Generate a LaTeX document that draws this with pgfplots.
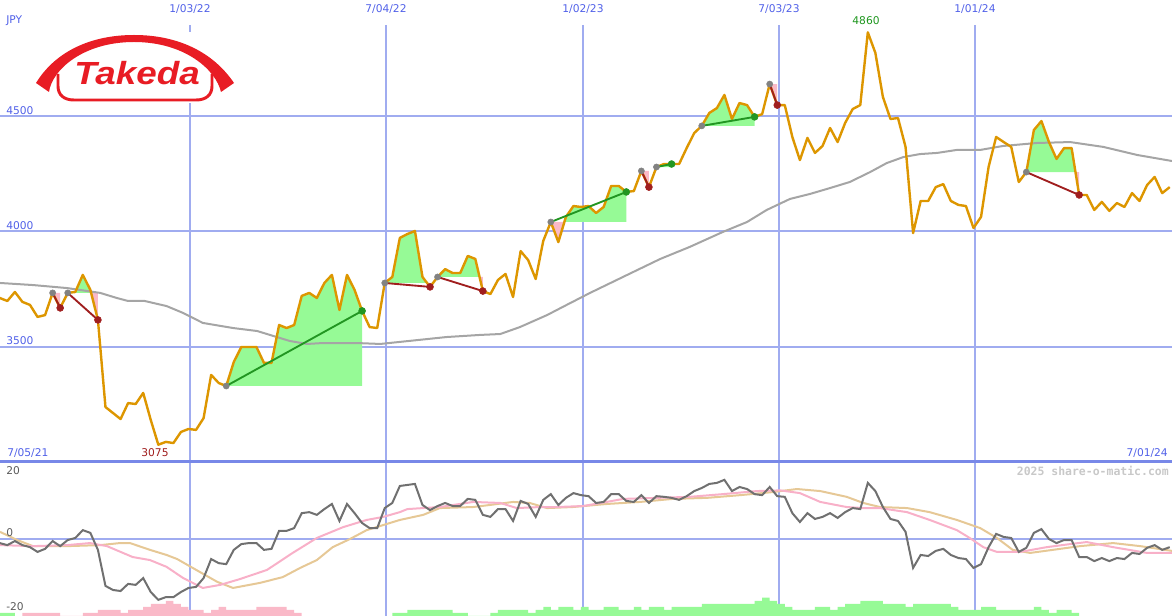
\documentclass[border=0pt]{standalone}
\usepackage{fontspec}
\setmainfont{DejaVu Sans}
\newfontfamily\monofont{DejaVu Sans Mono}
\newfontfamily\logofont{Liberation Sans}
\usepackage{pgfplots}
\pgfplotsset{compat=1.18}
\definecolor{pricecol}{RGB}{221,150,0}
\definecolor{magray}{RGB}{165,165,165}
\definecolor{gridblue}{RGB}{160,172,240}
\definecolor{sepblue}{RGB}{120,136,232}
\definecolor{lblblue}{RGB}{80,96,232}
\definecolor{upfill}{RGB}{150,250,150}
\definecolor{dnfill}{RGB}{250,185,200}
\definecolor{upline}{RGB}{34,150,34}
\definecolor{dnline}{RGB}{160,30,30}
\definecolor{startgray}{RGB}{130,130,130}
\definecolor{momgray}{RGB}{112,112,112}
\definecolor{sigpink}{RGB}{248,176,200}
\definecolor{sigtan}{RGB}{230,200,150}
\definecolor{takedared}{RGB}{232,28,36}
\definecolor{peakgreen}{RGB}{30,150,30}
\definecolor{lowred}{RGB}{160,30,30}
\definecolor{wmgray}{RGB}{200,200,200}
\definecolor{lowlbl}{RGB}{90,90,90}
\pgfplotsset{panel/.style={scale only axis, width=879pt, xmin=1.027, xmax=156.3,
  axis lines=none, xtick=\empty, ytick=\empty, clip=true}}
\begin{document}
\begin{tikzpicture}
% ---------- grid (pixel coordinates) ----------
\begin{scope}[x=0.75pt,y=-0.75pt]
\foreach \gy in {116,231,347,539} \draw[gridblue, line width=1.9pt] (0,\gy) -- (1172,\gy);
\foreach \gx in {190,583,975} \draw[gridblue, line width=0.8pt] (\gx,25) -- (\gx,616);
\foreach \gx in {386,779} \draw[gridblue, line width=1.9pt] (\gx,25) -- (\gx,616);
\end{scope}
% ---------- price panel ----------
\begin{axis}[panel, at={(0,0)}, anchor=north west, height=346.5pt, ymin=3000, ymax=5000]
% trend fills
\addplot[fill=dnfill, draw=none] coordinates {(8,3732)(9,3667)(9,3732)};
\addplot[fill=upfill, draw=none] coordinates {(10,3732)(11,3736)(12,3810)(13,3745)(13.1,3732)};
\addplot[fill=dnfill, draw=none] coordinates {(13.1,3732)(14,3615)(14,3732)};
\addplot[fill=upfill, draw=none] coordinates {(31,3329)(32,3433)(33,3498)(34,3498)(35,3498)(36,3429)(37,3429)(38,3593)(39,3580)(40,3593)(41,3719)(42,3732)(43,3710)(44,3775)(45,3810)(46,3658)(47,3810)(48,3745)(49,3654)(49,3329)};
\addplot[fill=upfill, draw=none] coordinates {(52,3775)(53,3801)(54,3970)(55,3987)(56,4000)(57,3801)(57.6,3775)};
\addplot[fill=dnfill, draw=none] coordinates {(57.6,3775)(58,3758)(58,3775)};
\addplot[fill=upfill, draw=none] coordinates {(59,3801)(60,3835)(61,3818)(62,3818)(63,3892)(64,3879)(64.56,3801)};
\addplot[fill=dnfill, draw=none] coordinates {(64.56,3801)(65,3740)(65,3801)};
\addplot[fill=dnfill, draw=none] coordinates {(74,4039)(75,3952)(75.8,4039)};
\addplot[fill=upfill, draw=none] coordinates {(75.8,4039)(76,4061)(77,4108)(78,4104)(79,4108)(80,4078)(81,4104)(82,4195)(83,4195)(84,4169)(84,4039)};
\addplot[fill=dnfill, draw=none] coordinates {(86,4260)(87,4190)(87,4260)};
\addplot[fill=upfill, draw=none] coordinates {(88,4277)(89,4290)(90,4290)(90,4277)};
\addplot[fill=upfill, draw=none] coordinates {(94,4455)(95,4511)(96,4532)(97,4589)(98,4485)(99,4554)(100,4545)(101,4494)(101,4455)};
\addplot[fill=dnfill, draw=none] coordinates {(103,4636)(104,4545)(104,4636)};
\addplot[fill=upfill, draw=none] coordinates {(137,4255)(138,4437)(139,4476)(140,4385)(141,4312)(142,4359)(143,4359)(143.51,4255)};
\addplot[fill=dnfill, draw=none] coordinates {(143.51,4255)(144,4156)(144,4255)};
% moving average
\addplot[magray, line width=1.5pt] coordinates {(1.03,3775)(5.4,3766)(9.9,3753)(14.3,3732)(16.5,3710)(18,3697)(20.2,3697)(23.1,3675)(25.3,3645)(27.9,3602)(31.9,3580)(35.1,3567)(37.7,3541)(39.4,3524)(41.7,3511)(43.8,3515)(48.3,3515)(51.4,3511)(60.2,3541)(64.6,3550)(67.3,3554)(69.9,3584)(73.5,3636)(76.1,3680)(79.2,3732)(84,3808)(88.5,3879)(92.4,3931)(96.8,3996)(100,4039)(102.6,4091)(105.7,4139)(108.3,4160)(111,4186)(113.6,4212)(116.3,4255)(118.5,4294)(120.7,4320)(122.9,4333)(125.2,4338)(127.8,4351)(130.9,4351)(133.9,4368)(138.4,4381)(142.8,4385)(147.2,4364)(151.7,4329)(156.3,4303)};
% price
\addplot[pricecol, line width=1.8pt, line join=round] coordinates {(1,3710)(2,3697)(3,3736)(4,3693)(5,3680)(6,3628)(7,3636)(8,3732)(9,3667)(10,3732)(11,3736)(12,3810)(13,3745)(14,3615)(15,3238)(16,3212)(17,3186)(18,3255)(19,3251)(20,3299)(21,3182)(22,3075)(23,3087)(24,3082)(25,3130)(26,3143)(27,3139)(28,3190)(29,3377)(30,3342)(31,3329)(32,3433)(33,3498)(34,3498)(35,3498)(36,3429)(37,3429)(38,3593)(39,3580)(40,3593)(41,3719)(42,3732)(43,3710)(44,3775)(45,3810)(46,3658)(47,3810)(48,3745)(49,3654)(50,3584)(51,3580)(52,3775)(53,3801)(54,3970)(55,3987)(56,4000)(57,3801)(58,3758)(59,3801)(60,3835)(61,3818)(62,3818)(63,3892)(64,3879)(65,3740)(66,3727)(67,3788)(68,3814)(69,3714)(70,3913)(71,3874)(72,3792)(73,3957)(74,4039)(75,3952)(76,4061)(77,4108)(78,4104)(79,4108)(80,4078)(81,4104)(82,4195)(83,4195)(84,4169)(85,4173)(86,4260)(87,4190)(88,4277)(89,4290)(90,4290)(91,4290)(92,4359)(93,4424)(94,4455)(95,4511)(96,4532)(97,4589)(98,4485)(99,4554)(100,4545)(101,4494)(102,4506)(103,4636)(104,4545)(105,4545)(106,4407)(107,4307)(108,4403)(109,4338)(110,4368)(111,4446)(112,4385)(113,4468)(114,4528)(115,4545)(116,4860)(117,4771)(118,4580)(119,4485)(120,4489)(121,4364)(122,3991)(123,4130)(124,4130)(125,4190)(126,4203)(127,4130)(128,4113)(129,4108)(130,4013)(131,4061)(132,4277)(133,4407)(134,4385)(135,4364)(136,4212)(137,4255)(138,4437)(139,4476)(140,4385)(141,4312)(142,4359)(143,4359)(144,4156)(145,4156)(146,4091)(147,4126)(148,4087)(149,4121)(150,4104)(151,4164)(152,4130)(153,4199)(154,4234)(155,4164)(156,4190)};
% trend lines
\addplot[dnline, line width=1.4pt] coordinates {(8,3732)(9,3667)};
\addplot[dnline, line width=1.4pt] coordinates {(10,3732)(14,3615)};
\addplot[upline, line width=1.4pt] coordinates {(31,3329)(49,3654)};
\addplot[dnline, line width=1.4pt] coordinates {(52,3775)(58,3758)};
\addplot[dnline, line width=1.4pt] coordinates {(59,3801)(65,3740)};
\addplot[upline, line width=1.4pt] coordinates {(74,4039)(84,4169)};
\addplot[dnline, line width=1.4pt] coordinates {(86,4260)(87,4190)};
\addplot[upline, line width=1.4pt] coordinates {(88,4277)(90,4290)};
\addplot[upline, line width=1.4pt] coordinates {(94,4455)(101,4494)};
\addplot[dnline, line width=1.4pt] coordinates {(103,4636)(104,4545)};
\addplot[dnline, line width=1.4pt] coordinates {(137,4255)(144,4156)};
% markers
\addplot[only marks, mark=*, mark size=2.3pt, startgray, mark options={draw=startgray, fill=startgray}] coordinates {(8,3732)(10,3732)(31,3329)(52,3775)(59,3801)(74,4039)(86,4260)(88,4277)(94,4455)(103,4636)(137,4255)};
\addplot[only marks, mark=*, mark size=2.6pt, mark options={draw=dnline, fill=dnline}] coordinates {(9,3667)(14,3615)(58,3758)(65,3740)(87,4190)(104,4545)(144,4156)};
\addplot[only marks, mark=*, mark size=2.6pt, mark options={draw=upline, fill=upline}] coordinates {(49,3654)(84,4169)(90,4290)(101,4494)};
\end{axis}
% ---------- histogram ----------
\begin{axis}[panel, at={(0,-346.5pt)}, anchor=north west, height=115.5pt, ymin=0, ymax=50.5]
\addplot[const plot, fill=dnfill, draw=none] coordinates {(4,1)(5,1)(6,1)(7,1)(8,1)(9,0)(10,0)(11,0)(12,1)(13,1)(14,2)(15,2)(16,2)(17,1)(18,2)(19,2)(20,3)(21,4)(22,4)(23,5)(24,4)(25,3)(26,2)(27,2)(28,1)(29,2)(30,3)(31,2)(32,2)(33,2)(34,2)(35,3)(36,3)(37,3)(38,3)(39,2)(40,1)(41,0)} \closedcycle;
\addplot[const plot, fill=upfill, draw=none] coordinates {(1,1)(2,1)(3,0)} \closedcycle;
\addplot[const plot, fill=upfill, draw=none] coordinates {(53,1)(54,1)(55,2)(56,2)(57,2)(58,2)(59,2)(60,2)(61,1)(62,1)(63,0)(64,0)(65,0)(66,1)(67,2)(68,2)(69,2)(70,2)(71,1)(72,2)(73,3)(74,2)(75,3)(76,3)(77,2)(78,3)(79,2)(80,2)(81,3)(82,3)(83,2)(84,2)(85,3)(86,2)(87,3)(88,3)(89,2)(90,3)(91,3)(92,3)(93,3)(94,4)(95,4)(96,4)(97,4)(98,4)(99,4)(100,4)(101,5)(102,6)(103,5)(104,4)(105,3)(106,2)(107,2)(108,2)(109,3)(110,3)(111,2)(112,3)(113,4)(114,4)(115,5)(116,5)(117,5)(118,4)(119,4)(120,4)(121,3)(122,4)(123,4)(124,4)(125,4)(126,4)(127,3)(128,2)(129,2)(130,2)(131,3)(132,3)(133,2)(134,2)(135,2)(136,2)(137,2)(138,3)(139,2)(140,1)(141,2)(142,2)(143,1)(144,0)} \closedcycle;
\end{axis}
% ---------- oscillator panel ----------
\begin{axis}[panel, at={(0,-346.5pt)}, anchor=north west, height=115.5pt, ymin=-22.65, ymax=22.65]
\addplot[sigtan, line width=1.5pt] coordinates {(1.03,2.1)(3.3,-0.3)(5.4,-2.1)(9.9,-2.1)(14.3,-1.8)(16.9,-1.2)(18.25,-1.2)(20.9,-3.2)(23.1,-4.7)(24.5,-5.9)(27.5,-9.7)(29.8,-12.6)(31.9,-14.4)(35.5,-12.9)(38.5,-11.2)(40.8,-8.5)(43,-6.2)(45.1,-2.4)(47.4,0)(49.6,2.6)(51.8,4.1)(54,5.6)(57.1,7.1)(59.3,9.1)(63.7,9.4)(65.9,10.0)(69,10.9)(71.2,10.6)(73.5,9.1)(76.9,9.4)(81.4,10.3)(85.8,10.9)(90.2,11.8)(94.7,12.1)(99.1,12.9)(103.4,13.8)(106.6,14.7)(109.7,14.1)(113.2,12.4)(115.4,10.6)(117.6,9.4)(121.2,9.1)(124.2,7.9)(127.8,5.6)(130.9,3.2)(133.1,0.3)(135.2,-3.2)(137.5,-4.1)(140.5,-3.2)(144.1,-2.1)(148.5,-1.2)(152.1,-2.1)(156.3,-3.5)};
\addplot[sigpink, line width=1.5pt] coordinates {(1.03,-1.8)(5.4,-2.1)(9.9,-1.8)(12.95,-1.2)(15.2,-2.1)(18.6,-5.3)(20.9,-6.2)(23.1,-8.2)(25.3,-11.5)(27.9,-14.4)(30.2,-13.5)(32.8,-11.8)(36.4,-9.1)(39.8,-4.1)(43,0.3)(46.5,3.5)(49.6,5.6)(51.8,6.5)(54,7.9)(55,8.8)(57.1,9.1)(59.3,9.4)(63.7,10.9)(67.3,10.6)(69.5,9.1)(72.6,9.4)(74.8,9.4)(78.3,9.7)(81.4,10.9)(83.6,11.8)(88.1,12.1)(92.4,12.4)(96.8,13.2)(101.3,14.1)(104.4,14.3)(107,13.5)(109.7,10.9)(113.2,9.4)(115.4,9.1)(117.6,9.1)(121.2,7.9)(124.2,5.6)(127.8,2.6)(129.5,0.3)(131.3,-2.4)(133.1,-3.8)(136.2,-3.8)(139.7,-2.4)(142.8,-1.5)(145,-0.9)(148.5,-2.4)(153,-4.1)(156.3,-4.1)};
\addplot[momgray, line width=1.5pt] coordinates {(1,-1.2)(2,-1.8)(3,-0.6)(4,-1.8)(5,-2.4)(6,-3.8)(7,-2.9)(8,-0.6)(9,-2.1)(10,-0.3)(11,0.3)(12,2.6)(13,1.8)(14,-3.2)(15,-13.8)(16,-15.0)(17,-15.3)(18,-13.2)(19,-13.5)(20,-11.5)(21,-15.6)(22,-17.9)(23,-17.1)(24,-17.1)(25,-15.6)(26,-14.4)(27,-14.1)(28,-11.5)(29,-5.9)(30,-7.1)(31,-7.4)(32,-3.2)(33,-1.5)(34,-1.2)(35,-1.2)(36,-3.2)(37,-2.9)(38,2.4)(39,2.4)(40,3.2)(41,7.6)(42,7.9)(43,7.1)(44,8.8)(45,10.3)(46,5.3)(47,10.3)(48,7.6)(49,4.7)(50,3.2)(51,3.2)(52,9.1)(53,10.6)(54,15.6)(55,15.9)(56,16.2)(57,10.0)(58,8.5)(59,9.7)(60,10.6)(61,9.7)(62,9.7)(63,11.8)(64,11.5)(65,7.1)(66,6.5)(67,8.8)(68,8.8)(69,5.3)(70,11.2)(71,10.3)(72,6.5)(73,11.5)(74,13.2)(75,10.0)(76,12.1)(77,13.5)(78,12.9)(79,12.6)(80,10.6)(81,10.9)(82,13.2)(83,13.2)(84,11.2)(85,10.9)(86,12.9)(87,10.6)(88,12.6)(89,12.4)(90,12.1)(91,11.5)(92,12.6)(93,14.1)(94,15.0)(95,16.2)(96,16.5)(97,17.4)(98,14.1)(99,15.3)(100,14.7)(101,13.2)(102,12.9)(103,15.3)(104,12.6)(105,12.4)(106,7.6)(107,5.0)(108,7.6)(109,5.9)(110,6.5)(111,7.6)(112,6.2)(113,7.9)(114,9.1)(115,8.8)(116,16.5)(117,14.1)(118,9.4)(119,5.9)(120,5.3)(121,2.1)(122,-8.5)(123,-4.7)(124,-5.0)(125,-3.5)(126,-2.9)(127,-4.7)(128,-5.6)(129,-5.9)(130,-8.5)(131,-7.4)(132,-2.4)(133,1.5)(134,0.6)(135,0.3)(136,-3.8)(137,-2.6)(138,1.8)(139,2.9)(140,0)(141,-1.2)(142,-0.3)(143,-0.3)(144,-5.3)(145,-5.3)(146,-6.5)(147,-5.6)(148,-6.5)(149,-5.6)(150,-5.9)(151,-4.1)(152,-4.4)(153,-2.6)(154,-1.8)(155,-3.2)(156,-2.4)};
\end{axis}
% ---------- overlays (pixel coordinates) ----------
\begin{scope}[x=0.75pt,y=-0.75pt]
\draw[sepblue, line width=1.9pt] (0,461.5) -- (1172,461.5);
% logo
\fill[white] (33,32) rectangle (238,103);
\fill[takedared] (36,83) .. controls (55,52) and (90,35) .. (134,35) .. controls (178,35) and (213,52) .. (234,83) -- (221,92) .. controls (216,70) and (185,42) .. (134,42) .. controls (83,42) and (52,70) .. (49,92) -- cycle;
\draw[takedared, line width=2.2pt] (58,74) -- (58,86) .. controls (58,95) and (64,100) .. (74,100) -- (196,100) .. controls (206,100) and (212,95) .. (212,86) -- (212,74);
\node[anchor=base, text=takedared, inner sep=0, xscale=1.15, font={\logofont\bfseries\itshape\fontsize{24}{24}\selectfont}] at (137,85) {Takeda};
% labels
\begin{scope}[every node/.style={inner sep=0, text=lblblue, font=\fontsize{8}{9}\selectfont}]
\node[anchor=west] at (6,21) {JPY};
\node at (190,9) {1/03/22};
\node at (386,9) {7/04/22};
\node at (583,9) {1/02/23};
\node at (779,9) {7/03/23};
\node at (975,9) {1/01/24};
\node[anchor=west] at (6,111) {4500};
\node[anchor=west] at (6,226) {4000};
\node[anchor=west] at (6,341) {3500};
\node[anchor=west] at (7,453) {7/05/21};
\node[anchor=east] at (1168,453) {7/01/24};
\node[text=peakgreen] at (866,21) {4860};
\node[text=lowred] at (155,453) {3075};
\node[anchor=west, text=lowlbl] at (6,471) {20};
\node[anchor=west, text=lowlbl] at (6,533) {0};
\node[anchor=west, text=lowlbl] at (6,607) {-20};
\node[anchor=east, text=wmgray, font={\monofont\bfseries\fontsize{8.6}{9}\selectfont}] at (1169,471) {2025 share-o-matic.com};
\end{scope}
\end{scope}
\pgfresetboundingbox
\path (0,0) rectangle (879pt,-462pt);
\end{tikzpicture}
\end{document}
